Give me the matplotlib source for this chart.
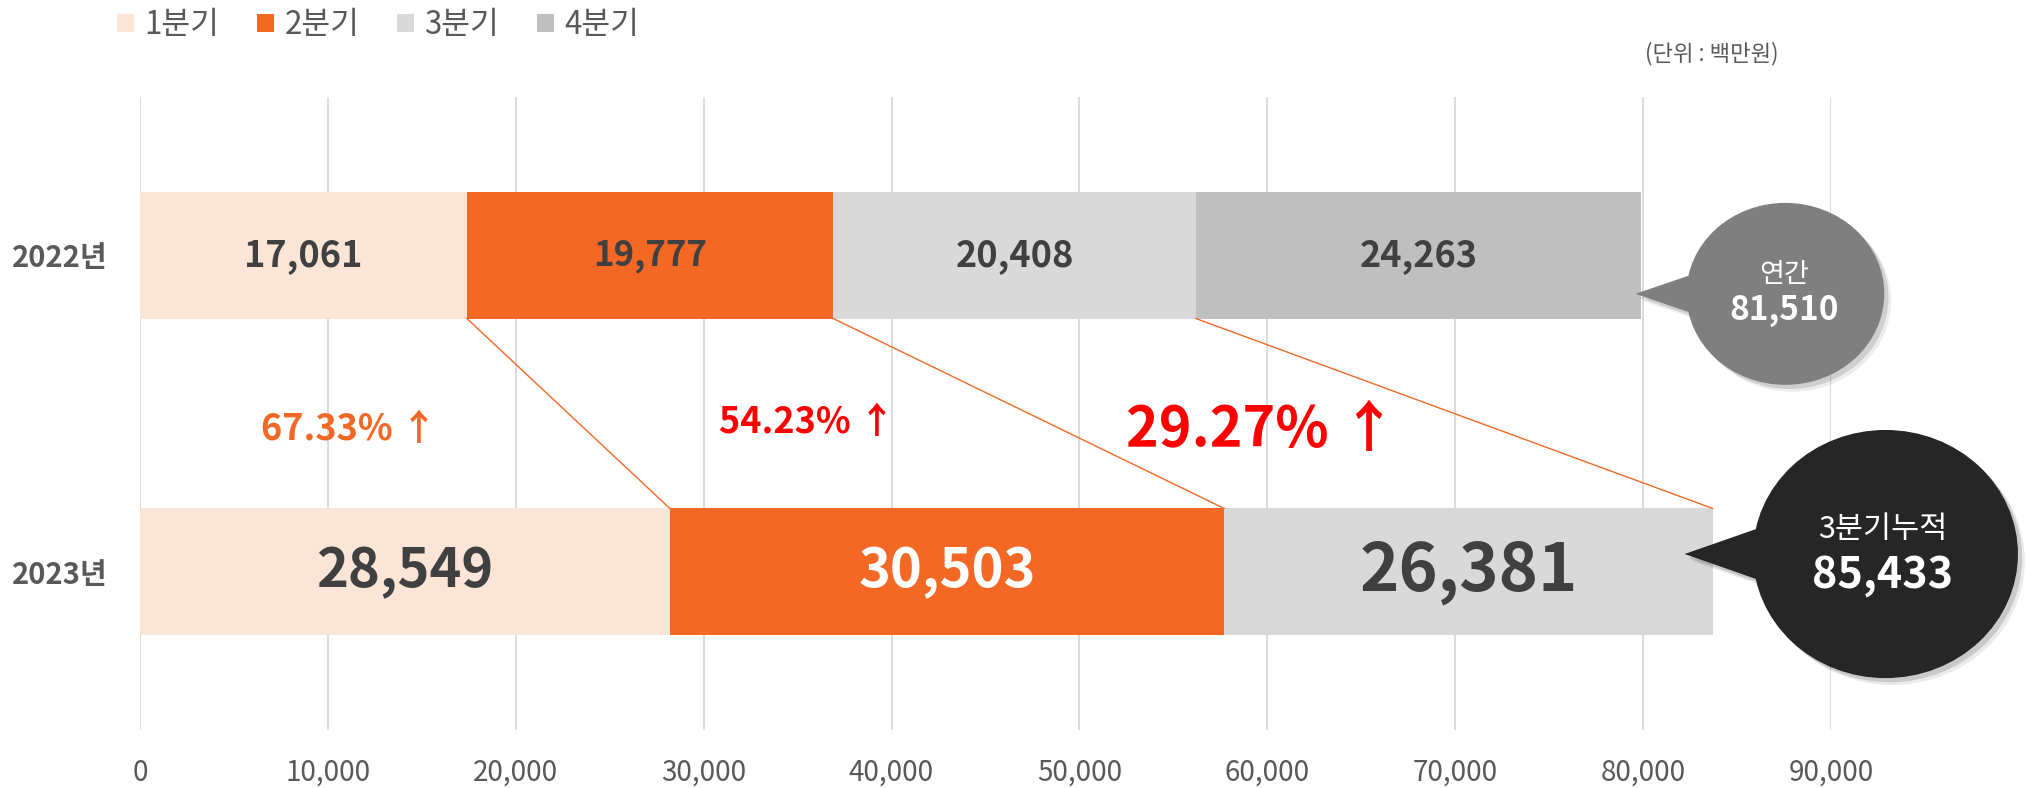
import numpy as np
import matplotlib.pyplot as plt
from matplotlib.patches import Ellipse, Polygon
import matplotlib.patheffects as pe

plt.rcParams['font.family'] = ['Noto Sans CJK KR', 'DejaVu Sans']

# data
years = ['2022년', '2023년']
quarters = ['1분기', '2분기', '3분기', '4분기']
bar_2022 = [17400, 19500, 19300, 23700]     # bar lengths as drawn (백만원)
bar_2023 = [28200, 29500, 26000]
label_2022 = [17061, 19777, 20408, 24263]   # printed values
label_2023 = [28549, 30503, 26381]
total_2022 = 81510
total_2023 = 85433
xticks = np.arange(0, 90001, 10000)

colors = ['#FBE5D6', '#F26824', '#D9D9D9', '#BFBFBF']
grey_txt = '#595959'
dark_txt = '#404040'
W, H = 2026, 788

fig = plt.figure(figsize=(W / 100, H / 100), dpi=100)
ax = fig.add_axes([140 / W, 58 / H, 1691 / W, 633 / H])

# stacked bars
cum22 = np.cumsum([0] + bar_2022)
cum23 = np.cumsum([0] + bar_2023)
handles = []
for i in range(4):
    b = ax.barh(0, bar_2022[i], left=cum22[i], height=0.4, color=colors[i], label=quarters[i])
    handles.append(b)
for i in range(3):
    ax.barh(1, bar_2023[i], left=cum23[i], height=0.4, color=colors[i])

# value labels
sizes22 = [26, 25, 26, 26]
for i in range(4):
    ax.text((cum22[i] + cum22[i + 1]) / 2, 0, f'{label_2022[i]:,}', ha='center', va='center',
            fontsize=sizes22[i], fontweight='bold', color=dark_txt)
sizes23 = [39, 39, 48]
txtcol23 = [dark_txt, 'white', dark_txt]
for i in range(3):
    ax.text((cum23[i] + cum23[i + 1]) / 2, 1, f'{label_2023[i]:,}', ha='center', va='center',
            fontsize=sizes23[i], fontweight='bold', color=txtcol23[i])

# connector lines between quarter ends
for i in range(3):
    ax.plot([cum22[i + 1], cum23[i + 1]], [0.2, 0.8], color='#F26824', lw=1, zorder=3)

# growth rates
pct_x = [11100, 35500, 59700]
pct_y = [0.552, 0.53, 0.552]
pct_size = [26, 26, 40]
pct_col = ['#F26824', '#FF0000', '#FF0000']
for i in range(3):
    g = (label_2023[i] / label_2022[i] - 1) * 100
    ax.text(pct_x[i], pct_y[i], f'{g:.2f}% ↑', ha='center', va='center',
            fontsize=pct_size[i], fontweight='bold', color=pct_col[i])


def bubble(cx, cy, w, h, tip_x, half, color):
    tail = Polygon([(tip_x, cy), (cx, cy - half), (cx, cy + half)], closed=True,
                   fc=color, ec='none', clip_on=False, zorder=5)
    body = Ellipse((cx, cy), w, h, fc=color, ec='none', clip_on=False, zorder=5)
    shadow = [pe.SimplePatchShadow(offset=(5, -5), alpha=0.08),
              pe.SimplePatchShadow(offset=(3, -3), alpha=0.15), pe.Normal()]
    for p in (tail, body):
        p.set_path_effects(shadow)
        ax.add_patch(p)


end22 = cum22[-1]
end23 = cum23[-1]
bubble(end22 + 7670, 0.122, 10530, 0.575, end22 - 310, 0.162, '#7F7F7F')
ax.text(end22 + 7620, 0.062, '연간', ha='center', va='center', fontsize=19.5, color='white', zorder=6)
ax.text(end22 + 7620, 0.176, f'{total_2022:,}', ha='center', va='center', fontsize=24,
        fontweight='bold', color='white', zorder=6)
bubble(end23 + 9200, 0.944, 14100, 0.784, end23 - 1490, 0.222, '#262626')
ax.text(end23 + 9040, 0.868, '3분기누적', ha='center', va='center', fontsize=22, color='white', zorder=6)
ax.text(end23 + 9040, 1.010, f'{total_2023:,}', ha='center', va='center', fontsize=31,
        fontweight='bold', color='white', zorder=6)

# axes
ax.set_xlim(0, 90000)
ax.set_ylim(1.5, -0.5)
ax.set_xticks(xticks)
ax.set_xticklabels([f'{v:,}' for v in xticks], fontsize=20, color=grey_txt)
ax.set_yticks([0, 1])
ax.set_yticklabels(years, fontsize=21, fontweight='bold', color=grey_txt)
ax.tick_params(axis='x', length=0, pad=20)
ax.tick_params(axis='y', length=0, pad=23)
ax.grid(axis='x', color='#D9D9D9', lw=1.3)
ax.set_axisbelow(True)
for s in ax.spines.values():
    s.set_visible(False)

fig.legend(handles=handles, labels=quarters, loc='upper left', bbox_to_anchor=(117 / W, 1 - 9 / H),
           ncol=4, frameon=False, fontsize=22.5, handlelength=0.55, handleheight=0.55,
           handletextpad=0.33, columnspacing=1.2, borderpad=0, borderaxespad=0, labelcolor=grey_txt)
fig.text(1712 / W, 1 - 54 / H, '(단위 : 백만원)', ha='center', va='center', fontsize=16, color=grey_txt)

fig.savefig('out.png', dpi=100)
